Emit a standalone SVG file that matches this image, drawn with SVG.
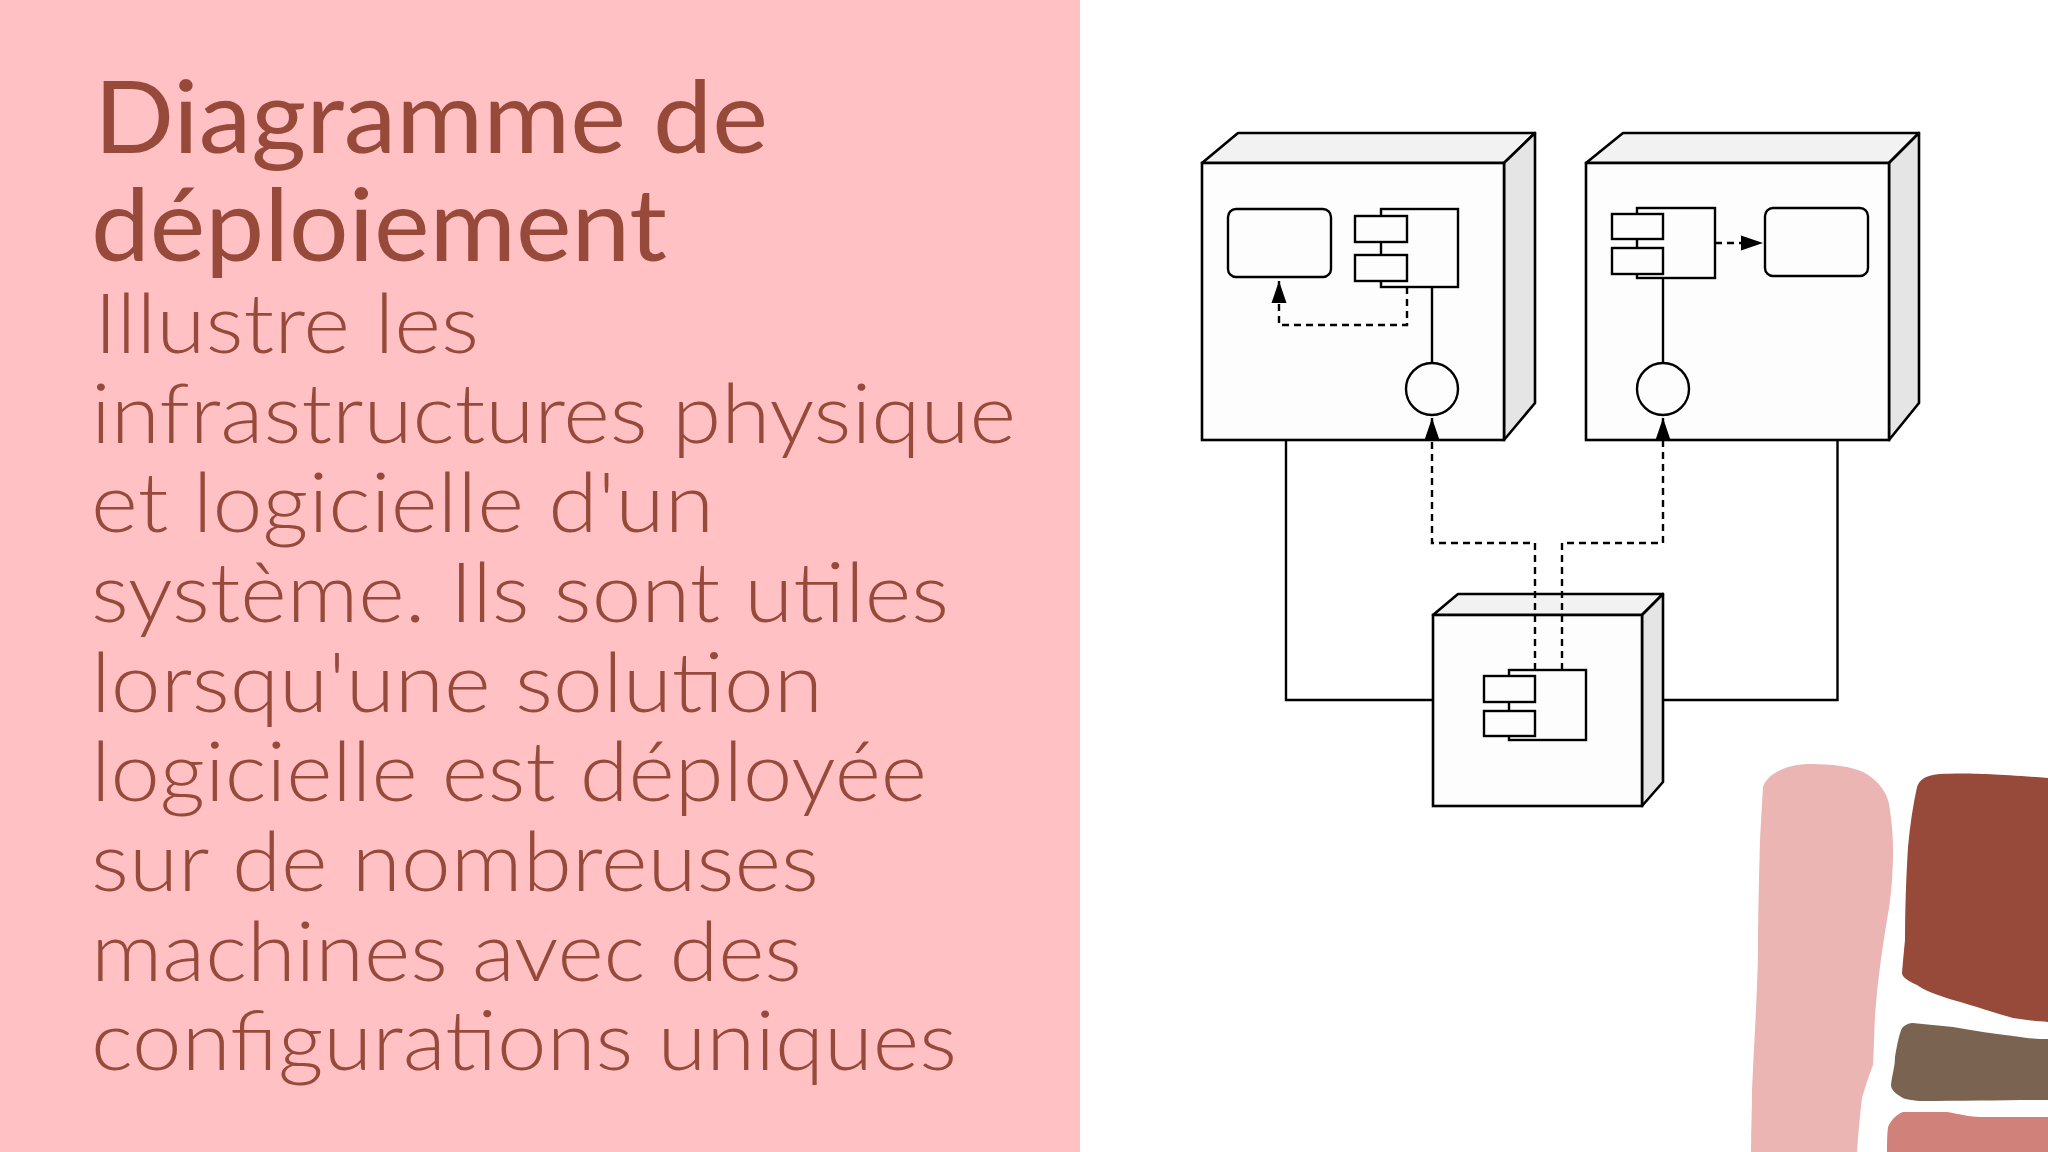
<svg xmlns="http://www.w3.org/2000/svg" width="2048" height="1152" viewBox="0 0 2048 1152">
<style>
.title{font-family:"Lato","Liberation Sans",sans-serif;font-size:101px;font-weight:400;fill:#974a3a}
.body{font-family:"Lato","Liberation Sans",sans-serif;font-size:83px;font-weight:300;fill:#974a3a}
.front{fill:#fdfdfd;stroke:#000;stroke-width:2.6}
.top{fill:#f3f2f3;stroke:#000;stroke-width:2.6;stroke-linejoin:round}
.side{fill:#e6e5e6;stroke:#000;stroke-width:2.6;stroke-linejoin:round}
.box{fill:#fdfdfd;stroke:#000;stroke-width:2.4}
.solid{fill:none;stroke:#000;stroke-width:2.4}
.dash{fill:none;stroke:#000;stroke-width:2.4;stroke-dasharray:7 5}
.arr{marker-end:url(#tip)}
</style>
<defs>
<marker id="tip" markerUnits="userSpaceOnUse" markerWidth="23" markerHeight="16" refX="22" refY="8" orient="auto">
<path d="M0 0.5L22 8L0 15.5z" fill="#000"/>
</marker>
</defs>
<rect id="background" width="2048" height="1152" fill="#fff"/>
<rect id="panel" width="1080" height="1152" fill="#ffc1c3"/>
<g id="title-text">
<text class="title" x="94" y="153" textLength="674" lengthAdjust="spacingAndGlyphs">Diagramme de</text>
<text class="title" x="91" y="261" textLength="576" lengthAdjust="spacingAndGlyphs">déploiement</text>
</g>
<g id="body-text">
<text class="body" x="94" y="353" textLength="385" lengthAdjust="spacingAndGlyphs">Illustre les</text>
<text class="body" x="91" y="443" textLength="925" lengthAdjust="spacingAndGlyphs">infrastructures physique</text>
<text class="body" x="91" y="532" textLength="623" lengthAdjust="spacingAndGlyphs">et logicielle d'un</text>
<text class="body" x="91" y="622" textLength="858" lengthAdjust="spacingAndGlyphs">système. Ils sont utiles</text>
<text class="body" x="91" y="712" textLength="732" lengthAdjust="spacingAndGlyphs">lorsqu'une solution</text>
<text class="body" x="91" y="801" textLength="836" lengthAdjust="spacingAndGlyphs">logicielle est déployée</text>
<text class="body" x="91" y="891" textLength="728" lengthAdjust="spacingAndGlyphs">sur de nombreuses</text>
<text class="body" x="91" y="981" textLength="711" lengthAdjust="spacingAndGlyphs">machines avec des</text>
<text class="body" x="91" y="1070" textLength="866" lengthAdjust="spacingAndGlyphs">configurations uniques</text>
</g>
<g id="decor">
<path fill="#eab5b2" d="M1763 787C1768 772 1790 764 1810 764C1835 764 1852 767 1863 772C1880 781 1889 795 1890 811C1893 830 1894 850 1892 880C1891 895 1889 910 1887 920C1882 950 1877 985 1875 1017C1874 1035 1874 1050 1873 1065C1868 1078 1865 1088 1862 1098C1860 1115 1858 1135 1857 1152L1751 1152C1751 1130 1752 1110 1752 1090C1754 1045 1757 1000 1758 953C1758 915 1759 880 1760 840C1761 820 1762 805 1763 787Z"/>
<path fill="#974a3a" d="M1917 787C1920 778 1928 775 1940 774C1960 773 1985 773 2048 778L2048 1022C2035 1021 2025 1020 2013 1018C1995 1013 1975 1006 1953 1000C1935 994 1925 991 1917 985C1908 981 1902 977 1902 973C1903 960 1904 950 1905 940C1905 910 1906 880 1908 847C1910 825 1913 805 1917 787Z"/>
<path fill="#7a6350" d="M1902 1028C1906 1024 1910 1023 1913 1023C1925 1024 1940 1026 1953 1027C1975 1031 1995 1034 2013 1036C2025 1038 2035 1039 2048 1039L2048 1100C2010 1100 1965 1101 1920 1101C1910 1100 1905 1099 1903 1098C1896 1094 1891 1090 1891 1085C1892 1075 1895 1067 1895 1057C1897 1045 1899 1035 1902 1028Z"/>
<path fill="#d0827a" d="M1887 1152C1887 1143 1887 1135 1888 1127C1892 1118 1898 1114 1903 1112C1915 1112 1932 1112 1947 1112C1960 1114 1970 1117 1980 1117C2000 1117 2025 1117 2048 1117L2048 1152Z"/>
</g>
<g id="node-left">
<path class="top" d="M1202 163L1238 133L1535 133L1504 163Z"/>
<path class="side" d="M1504 163L1535 133L1535 403L1504 440Z"/>
<rect class="front" x="1202" y="163" width="302" height="277"/>
</g>
<g id="node-right">
<path class="top" d="M1586 163L1623 133L1919 133L1889 163Z"/>
<path class="side" d="M1889 163L1919 133L1919 403L1889 440Z"/>
<rect class="front" x="1586" y="163" width="303" height="277"/>
</g>
<g id="node-bottom">
<path class="top" d="M1433 615L1458 594L1663 594L1642 615Z"/>
<path class="side" d="M1642 615L1663 594L1663 782L1642 806Z"/>
<rect class="front" x="1433" y="615" width="209" height="191"/>
</g>
<g id="artifact-left"><rect class="box" x="1228" y="209" width="103" height="68" rx="8"/></g>
<g id="artifact-right"><rect class="box" x="1765" y="208" width="103" height="68" rx="8"/></g>
<g id="component-left">
<rect class="box" x="1381" y="209" width="77" height="78"/>
<rect class="box" x="1355" y="216" width="52" height="26"/>
<rect class="box" x="1355" y="255" width="52" height="26"/>
</g>
<g id="component-right">
<rect class="box" x="1637" y="208" width="78" height="70"/>
<rect class="box" x="1612" y="214" width="51" height="25"/>
<rect class="box" x="1612" y="248" width="51" height="26"/>
</g>
<g id="component-bottom">
<rect class="box" x="1509" y="670" width="77" height="70"/>
<rect class="box" x="1484" y="676" width="51" height="26"/>
<rect class="box" x="1484" y="711" width="51" height="25"/>
</g>
<g id="interface-left"><circle class="box" cx="1432" cy="389" r="26"/></g>
<g id="interface-right"><circle class="box" cx="1663" cy="389" r="26"/></g>
<g id="connectors">
<path class="solid" d="M1432 287V363"/>
<path class="solid" d="M1663 278V363"/>
<path class="solid" d="M1286 440V700H1433"/>
<path class="solid" d="M1663 700H1837.500V440"/>
<path class="dash arr" d="M1407 287V325H1279V281"/>
<path class="dash arr" d="M1715 243H1763"/>
<path class="dash arr" d="M1535 670V543H1432V418"/>
<path class="dash arr" d="M1562 670V543H1663V418"/>
</g>
</svg>
